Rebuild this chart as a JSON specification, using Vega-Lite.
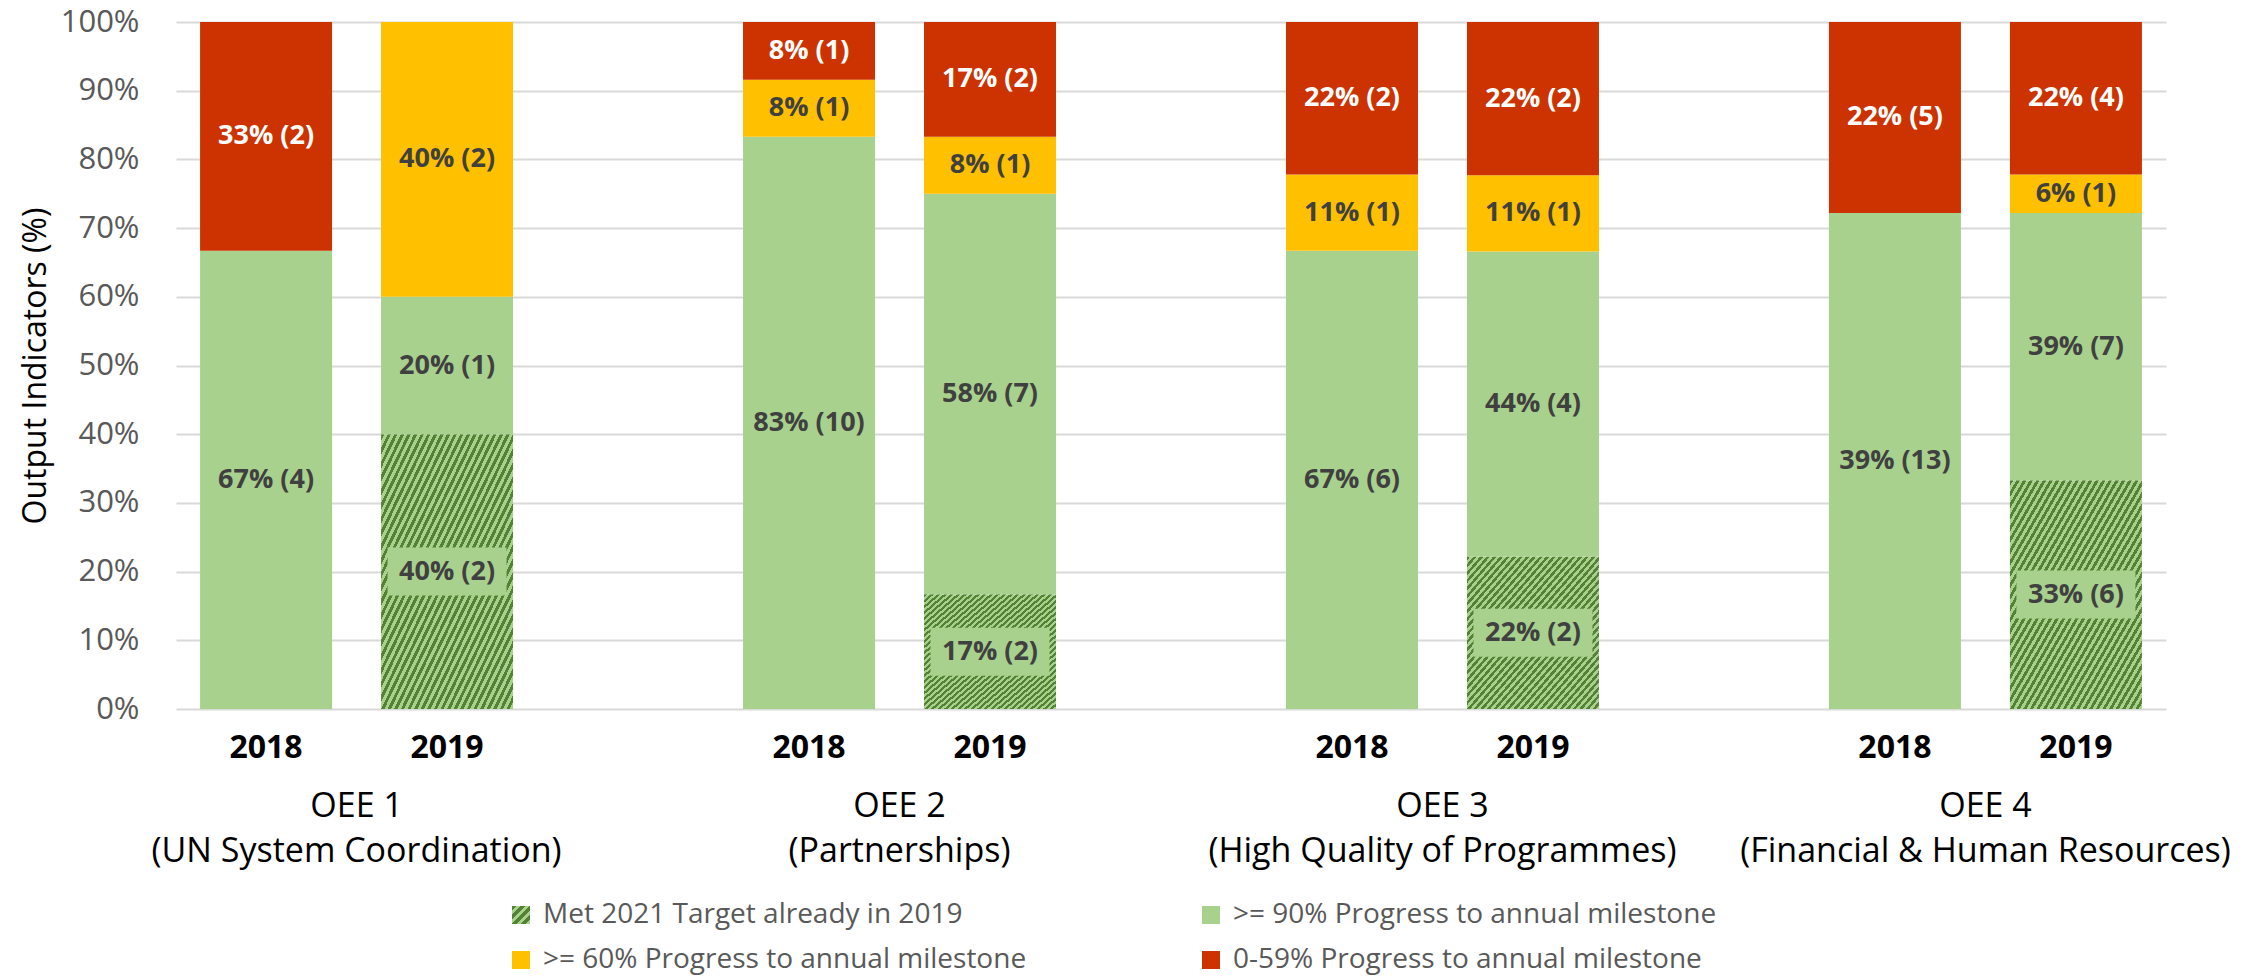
{
  "$schema": "https://vega.github.io/schema/vega-lite/v6.json",
  "width": 1990,
  "height": 687,
  "autosize": {"type": "none"},
  "padding": {"left": 176, "top": 22, "right": 83, "bottom": 268},
  "background": "white",
  "config": {
    "view": {"stroke": null},
    "font": "Open Sans",
    "axisY": {"grid": true, "gridColor": "#D9D9D9", "gridWidth": 2, "domain": false, "ticks": false, "labelFontSize": 31, "labelColor": "#595959", "labelFont": "Open Sans", "labelPadding": 37, "titleFont": "Open Sans", "titleFontSize": 32, "titleFontWeight": "normal", "titleColor": "#000000", "titlePadding": 8}
  },
  "datasets": {
    "segs": [
      {"group": "OEE 1", "year": "2018", "status": ">= 90% Progress to annual milestone", "pct": 66.7, "label": "67% (4)"},
      {"group": "OEE 1", "year": "2018", "status": "0-59% Progress to annual milestone", "pct": 33.3, "label": "33% (2)"},
      {"group": "OEE 1", "year": "2019", "status": "Met 2021 Target already in 2019", "pct": 40, "label": "40% (2)"},
      {"group": "OEE 1", "year": "2019", "status": ">= 90% Progress to annual milestone", "pct": 20, "label": "20% (1)"},
      {"group": "OEE 1", "year": "2019", "status": ">= 60% Progress to annual milestone", "pct": 40, "label": "40% (2)"},
      {"group": "OEE 2", "year": "2018", "status": ">= 90% Progress to annual milestone", "pct": 83.3, "label": "83% (10)"},
      {"group": "OEE 2", "year": "2018", "status": ">= 60% Progress to annual milestone", "pct": 8.3, "label": "8% (1)"},
      {"group": "OEE 2", "year": "2018", "status": "0-59% Progress to annual milestone", "pct": 8.4, "label": "8% (1)"},
      {"group": "OEE 2", "year": "2019", "status": "Met 2021 Target already in 2019", "pct": 16.7, "label": "17% (2)"},
      {"group": "OEE 2", "year": "2019", "status": ">= 90% Progress to annual milestone", "pct": 58.3, "label": "58% (7)"},
      {"group": "OEE 2", "year": "2019", "status": ">= 60% Progress to annual milestone", "pct": 8.3, "label": "8% (1)"},
      {"group": "OEE 2", "year": "2019", "status": "0-59% Progress to annual milestone", "pct": 16.7, "label": "17% (2)"},
      {"group": "OEE 3", "year": "2018", "status": ">= 90% Progress to annual milestone", "pct": 66.7, "label": "67% (6)"},
      {"group": "OEE 3", "year": "2018", "status": ">= 60% Progress to annual milestone", "pct": 11.1, "label": "11% (1)"},
      {"group": "OEE 3", "year": "2018", "status": "0-59% Progress to annual milestone", "pct": 22.2, "label": "22% (2)"},
      {"group": "OEE 3", "year": "2019", "status": "Met 2021 Target already in 2019", "pct": 22.2, "label": "22% (2)"},
      {"group": "OEE 3", "year": "2019", "status": ">= 90% Progress to annual milestone", "pct": 44.4, "label": "44% (4)"},
      {"group": "OEE 3", "year": "2019", "status": ">= 60% Progress to annual milestone", "pct": 11.1, "label": "11% (1)"},
      {"group": "OEE 3", "year": "2019", "status": "0-59% Progress to annual milestone", "pct": 22.3, "label": "22% (2)"},
      {"group": "OEE 4", "year": "2018", "status": ">= 90% Progress to annual milestone", "pct": 72.2, "label": "39% (13)"},
      {"group": "OEE 4", "year": "2018", "status": "0-59% Progress to annual milestone", "pct": 27.8, "label": "22% (5)"},
      {"group": "OEE 4", "year": "2019", "status": "Met 2021 Target already in 2019", "pct": 33.3, "label": "33% (6)"},
      {"group": "OEE 4", "year": "2019", "status": ">= 90% Progress to annual milestone", "pct": 38.9, "label": "39% (7)"},
      {"group": "OEE 4", "year": "2019", "status": ">= 60% Progress to annual milestone", "pct": 5.6, "label": "6% (1)"},
      {"group": "OEE 4", "year": "2019", "status": "0-59% Progress to annual milestone", "pct": 22.2, "label": "22% (4)"}
    ],
    "years": [
      {"group": "OEE 1", "year": "2018"}, {"group": "OEE 1", "year": "2019"},
      {"group": "OEE 2", "year": "2018"}, {"group": "OEE 2", "year": "2019"},
      {"group": "OEE 3", "year": "2018"}, {"group": "OEE 3", "year": "2019"},
      {"group": "OEE 4", "year": "2018"}, {"group": "OEE 4", "year": "2019"}
    ],
    "groups": [
      {"group": "OEE 1", "label": "OEE 1\n(UN System Coordination)"},
      {"group": "OEE 2", "label": "OEE 2\n(Partnerships)"},
      {"group": "OEE 3", "label": "OEE 3\n(High Quality of Programmes)"},
      {"group": "OEE 4", "label": "OEE 4\n(Financial & Human Resources)"}
    ]
  },
  "layer": [
    {
      "data": {"name": "segs"},
      "transform": [
        {"calculate": "indexof(['Met 2021 Target already in 2019','>= 90% Progress to annual milestone','>= 60% Progress to annual milestone','0-59% Progress to annual milestone'], datum.status)", "as": "rank"},
        {"stack": "pct", "groupby": ["group", "year"], "sort": [{"field": "rank", "order": "ascending"}], "as": ["y0", "y1"]},
        {"calculate": "datum.group + ' ' + datum.year", "as": "slot"},
        {"calculate": "(datum.y0 + datum.y1) / 2", "as": "mid"}
      ],
      "layer": [
        {
          "mark": {"type": "bar"},
          "encoding": {
            "x": {"field": "slot", "type": "nominal", "scale": {"domain": ["OEE 1 2018", "OEE 1 2019", "s1", "OEE 2 2018", "OEE 2 2019", "s2", "OEE 3 2018", "OEE 3 2019", "s3", "OEE 4 2018", "OEE 4 2019"], "paddingInner": 0.2707, "paddingOuter": 0.133}, "axis": null},
            "y": {"field": "y0", "type": "quantitative", "scale": {"domain": [0, 100]}, "title": "Output Indicators (%)", "axis": {"values": [0, 10, 20, 30, 40, 50, 60, 70, 80, 90, 100], "labelExpr": "datum.value + '%'"}},
            "y2": {"field": "y1"},
            "color": {"field": "status", "type": "nominal",
              "scale": {"domain": ["Met 2021 Target already in 2019", ">= 90% Progress to annual milestone", ">= 60% Progress to annual milestone", "0-59% Progress to annual milestone"],
                "range": [{"expr": "{gradient:'linear',x1:0,y1:0,x2:1,y2:1,stops:[{offset:0,color:'#548235'},{offset:0.0125,color:'#548235'},{offset:0.0125,color:'#A9D18E'},{offset:0.025,color:'#A9D18E'},{offset:0.025,color:'#548235'},{offset:0.0375,color:'#548235'},{offset:0.0375,color:'#A9D18E'},{offset:0.05,color:'#A9D18E'},{offset:0.05,color:'#548235'},{offset:0.0625,color:'#548235'},{offset:0.0625,color:'#A9D18E'},{offset:0.075,color:'#A9D18E'},{offset:0.075,color:'#548235'},{offset:0.0875,color:'#548235'},{offset:0.0875,color:'#A9D18E'},{offset:0.1,color:'#A9D18E'},{offset:0.1,color:'#548235'},{offset:0.1125,color:'#548235'},{offset:0.1125,color:'#A9D18E'},{offset:0.125,color:'#A9D18E'},{offset:0.125,color:'#548235'},{offset:0.1375,color:'#548235'},{offset:0.1375,color:'#A9D18E'},{offset:0.15,color:'#A9D18E'},{offset:0.15,color:'#548235'},{offset:0.1625,color:'#548235'},{offset:0.1625,color:'#A9D18E'},{offset:0.175,color:'#A9D18E'},{offset:0.175,color:'#548235'},{offset:0.1875,color:'#548235'},{offset:0.1875,color:'#A9D18E'},{offset:0.2,color:'#A9D18E'},{offset:0.2,color:'#548235'},{offset:0.2125,color:'#548235'},{offset:0.2125,color:'#A9D18E'},{offset:0.225,color:'#A9D18E'},{offset:0.225,color:'#548235'},{offset:0.2375,color:'#548235'},{offset:0.2375,color:'#A9D18E'},{offset:0.25,color:'#A9D18E'},{offset:0.25,color:'#548235'},{offset:0.2625,color:'#548235'},{offset:0.2625,color:'#A9D18E'},{offset:0.275,color:'#A9D18E'},{offset:0.275,color:'#548235'},{offset:0.2875,color:'#548235'},{offset:0.2875,color:'#A9D18E'},{offset:0.3,color:'#A9D18E'},{offset:0.3,color:'#548235'},{offset:0.3125,color:'#548235'},{offset:0.3125,color:'#A9D18E'},{offset:0.325,color:'#A9D18E'},{offset:0.325,color:'#548235'},{offset:0.3375,color:'#548235'},{offset:0.3375,color:'#A9D18E'},{offset:0.35,color:'#A9D18E'},{offset:0.35,color:'#548235'},{offset:0.3625,color:'#548235'},{offset:0.3625,color:'#A9D18E'},{offset:0.375,color:'#A9D18E'},{offset:0.375,color:'#548235'},{offset:0.3875,color:'#548235'},{offset:0.3875,color:'#A9D18E'},{offset:0.4,color:'#A9D18E'},{offset:0.4,color:'#548235'},{offset:0.4125,color:'#548235'},{offset:0.4125,color:'#A9D18E'},{offset:0.425,color:'#A9D18E'},{offset:0.425,color:'#548235'},{offset:0.4375,color:'#548235'},{offset:0.4375,color:'#A9D18E'},{offset:0.45,color:'#A9D18E'},{offset:0.45,color:'#548235'},{offset:0.4625,color:'#548235'},{offset:0.4625,color:'#A9D18E'},{offset:0.475,color:'#A9D18E'},{offset:0.475,color:'#548235'},{offset:0.4875,color:'#548235'},{offset:0.4875,color:'#A9D18E'},{offset:0.5,color:'#A9D18E'},{offset:0.5,color:'#548235'},{offset:0.5125,color:'#548235'},{offset:0.5125,color:'#A9D18E'},{offset:0.525,color:'#A9D18E'},{offset:0.525,color:'#548235'},{offset:0.5375,color:'#548235'},{offset:0.5375,color:'#A9D18E'},{offset:0.55,color:'#A9D18E'},{offset:0.55,color:'#548235'},{offset:0.5625,color:'#548235'},{offset:0.5625,color:'#A9D18E'},{offset:0.575,color:'#A9D18E'},{offset:0.575,color:'#548235'},{offset:0.5875,color:'#548235'},{offset:0.5875,color:'#A9D18E'},{offset:0.6,color:'#A9D18E'},{offset:0.6,color:'#548235'},{offset:0.6125,color:'#548235'},{offset:0.6125,color:'#A9D18E'},{offset:0.625,color:'#A9D18E'},{offset:0.625,color:'#548235'},{offset:0.6375,color:'#548235'},{offset:0.6375,color:'#A9D18E'},{offset:0.65,color:'#A9D18E'},{offset:0.65,color:'#548235'},{offset:0.6625,color:'#548235'},{offset:0.6625,color:'#A9D18E'},{offset:0.675,color:'#A9D18E'},{offset:0.675,color:'#548235'},{offset:0.6875,color:'#548235'},{offset:0.6875,color:'#A9D18E'},{offset:0.7,color:'#A9D18E'},{offset:0.7,color:'#548235'},{offset:0.7125,color:'#548235'},{offset:0.7125,color:'#A9D18E'},{offset:0.725,color:'#A9D18E'},{offset:0.725,color:'#548235'},{offset:0.7375,color:'#548235'},{offset:0.7375,color:'#A9D18E'},{offset:0.75,color:'#A9D18E'},{offset:0.75,color:'#548235'},{offset:0.7625,color:'#548235'},{offset:0.7625,color:'#A9D18E'},{offset:0.775,color:'#A9D18E'},{offset:0.775,color:'#548235'},{offset:0.7875,color:'#548235'},{offset:0.7875,color:'#A9D18E'},{offset:0.8,color:'#A9D18E'},{offset:0.8,color:'#548235'},{offset:0.8125,color:'#548235'},{offset:0.8125,color:'#A9D18E'},{offset:0.825,color:'#A9D18E'},{offset:0.825,color:'#548235'},{offset:0.8375,color:'#548235'},{offset:0.8375,color:'#A9D18E'},{offset:0.85,color:'#A9D18E'},{offset:0.85,color:'#548235'},{offset:0.8625,color:'#548235'},{offset:0.8625,color:'#A9D18E'},{offset:0.875,color:'#A9D18E'},{offset:0.875,color:'#548235'},{offset:0.8875,color:'#548235'},{offset:0.8875,color:'#A9D18E'},{offset:0.9,color:'#A9D18E'},{offset:0.9,color:'#548235'},{offset:0.9125,color:'#548235'},{offset:0.9125,color:'#A9D18E'},{offset:0.925,color:'#A9D18E'},{offset:0.925,color:'#548235'},{offset:0.9375,color:'#548235'},{offset:0.9375,color:'#A9D18E'},{offset:0.95,color:'#A9D18E'},{offset:0.95,color:'#548235'},{offset:0.9625,color:'#548235'},{offset:0.9625,color:'#A9D18E'},{offset:0.975,color:'#A9D18E'},{offset:0.975,color:'#548235'},{offset:0.9875,color:'#548235'},{offset:0.9875,color:'#A9D18E'},{offset:1,color:'#A9D18E'}]}"}, "#A9D18E", "#FFC000", "#CC3300"]},
              "legend": {"orient": "none", "legendX": 331, "legendY": 879, "columns": 2, "direction": "horizontal", "title": null, "symbolType": "square", "symbolSize": 324, "symbolStrokeWidth": 0, "labelFontSize": 28, "labelColor": "#595959", "labelFont": "Open Sans", "labelOffset": 8, "labelLimit": 0, "columnPadding": 170, "rowPadding": 17, "padding": 0}}
          }
        },
        {
          "transform": [{"filter": "datum.status === 'Met 2021 Target already in 2019'"}],
          "mark": {"type": "tick", "thickness": 48, "size": 119, "color": "#A9D18E", "opacity": 1},
          "encoding": {
            "x": {"field": "slot", "type": "nominal", "scale": {"domain": ["OEE 1 2018", "OEE 1 2019", "s1", "OEE 2 2018", "OEE 2 2019", "s2", "OEE 3 2018", "OEE 3 2019", "s3", "OEE 4 2018", "OEE 4 2019"], "paddingInner": 0.2707, "paddingOuter": 0.133}, "axis": null},
            "y": {"field": "mid", "type": "quantitative", "scale": {"domain": [0, 100]}, "title": "Output Indicators (%)", "axis": {"values": [0, 10, 20, 30, 40, 50, 60, 70, 80, 90, 100], "labelExpr": "datum.value + '%'"}}
          }
        },
        {
          "mark": {"type": "text", "fontSize": 27, "fontWeight": "bold", "font": "Open Sans", "baseline": "middle", "align": "center"},
          "encoding": {
            "x": {"field": "slot", "type": "nominal", "scale": {"domain": ["OEE 1 2018", "OEE 1 2019", "s1", "OEE 2 2018", "OEE 2 2019", "s2", "OEE 3 2018", "OEE 3 2019", "s3", "OEE 4 2018", "OEE 4 2019"], "paddingInner": 0.2707, "paddingOuter": 0.133}, "axis": null},
            "y": {"field": "mid", "type": "quantitative", "scale": {"domain": [0, 100]}, "title": "Output Indicators (%)", "axis": {"values": [0, 10, 20, 30, 40, 50, 60, 70, 80, 90, 100], "labelExpr": "datum.value + '%'"}},
            "text": {"field": "label"},
            "color": {"condition": {"test": "datum.status === '0-59% Progress to annual milestone'", "value": "#FFFFFF"}, "value": "#404040"}
          }
        }
      ]
    },
    {
      "data": {"name": "years"},
      "transform": [{"calculate": "datum.group + ' ' + datum.year", "as": "slot"}],
      "mark": {"type": "text", "fontSize": 32, "fontWeight": "bold", "font": "Open Sans", "color": "#000000", "baseline": "alphabetic", "align": "center", "dy": 49},
      "encoding": {
        "x": {"field": "slot", "type": "nominal", "scale": {"domain": ["OEE 1 2018", "OEE 1 2019", "s1", "OEE 2 2018", "OEE 2 2019", "s2", "OEE 3 2018", "OEE 3 2019", "s3", "OEE 4 2018", "OEE 4 2019"], "paddingInner": 0.2707, "paddingOuter": 0.133}, "axis": null},
        "y": {"datum": 0, "type": "quantitative", "scale": {"domain": [0, 100]}, "title": "Output Indicators (%)", "axis": {"values": [0, 10, 20, 30, 40, 50, 60, 70, 80, 90, 100], "labelExpr": "datum.value + '%'"}},
        "text": {"field": "year"}
      }
    },
    {
      "data": {"name": "groups"},
      "transform": [{"calculate": "datum.group + ' 2018'", "as": "slot"}],
      "mark": {"type": "text", "fontSize": 34, "font": "Open Sans", "color": "#000000", "baseline": "alphabetic", "align": "center", "dy": 108, "dx": 90.5, "lineBreak": "\n", "lineHeight": 45},
      "encoding": {
        "x": {"field": "slot", "type": "nominal", "scale": {"domain": ["OEE 1 2018", "OEE 1 2019", "s1", "OEE 2 2018", "OEE 2 2019", "s2", "OEE 3 2018", "OEE 3 2019", "s3", "OEE 4 2018", "OEE 4 2019"], "paddingInner": 0.2707, "paddingOuter": 0.133}, "axis": null},
        "y": {"datum": 0, "type": "quantitative", "scale": {"domain": [0, 100]}, "title": "Output Indicators (%)", "axis": {"values": [0, 10, 20, 30, 40, 50, 60, 70, 80, 90, 100], "labelExpr": "datum.value + '%'"}},
        "text": {"field": "label"}
      }
    }
  ]
}
